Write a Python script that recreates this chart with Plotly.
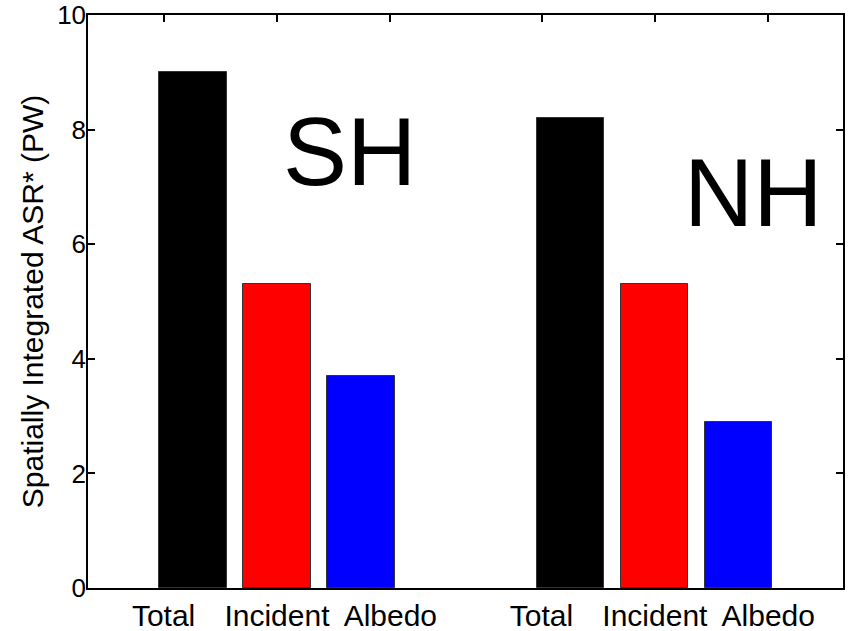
import plotly.graph_objects as go

# Spatially integrated absorbed shortwave radiation, by hemisphere
hemispheres = ["SH", "NH"]
components = ["Total", "Incident", "Albedo"]
sh_values = [9.0, 5.3, 3.7]
nh_values = [8.2, 5.3, 2.9]
bar_colors = ["#000000", "#ff0000", "#0000ff"]
y_ticks = [0, 2, 4, 6, 8, 10]

# group layout on a numeric x axis
group_centers = [2.0, 6.5]
bar_offsets = [-1.0, 0.0, 1.0]
tick_offsets = [-1.35, 0.0, 1.35]

FONT = "Liberation Sans, Arial, Helvetica, sans-serif"

fig = go.Figure()
for gc, vals in zip(group_centers, [sh_values, nh_values]):
    fig.add_trace(go.Bar(
        x=[gc + o for o in bar_offsets],
        y=vals,
        width=0.8,
        marker=dict(color=bar_colors, line=dict(color="#333333", width=1)),
        showlegend=False,
        hoverinfo="x+y",
    ))

tickvals = [gc + o for gc in group_centers for o in tick_offsets]
ticktext = components * len(group_centers)

fig.update_layout(
    width=849, height=631,
    margin=dict(l=88, r=6, t=15, b=43),
    paper_bgcolor="white", plot_bgcolor="white",
    font=dict(family=FONT, color="black"),
    bargap=0,
)
fig.update_xaxes(
    range=[-0.25, 8.74],
    tickvals=tickvals, ticktext=ticktext,
    ticks="inside", ticklen=7, tickwidth=1.5, tickcolor="black",
    showline=True, linecolor="black", linewidth=1.5, mirror="ticks",
    showgrid=False, zeroline=False,
    tickfont=dict(size=30, family=FONT),
    layer="below traces",
    automargin=False,
)
fig.update_yaxes(
    range=[0, 10],
    tickvals=y_ticks,
    ticks="inside", ticklen=7, tickwidth=1.5, tickcolor="black",
    showline=True, linecolor="black", linewidth=1.5, mirror="ticks",
    showgrid=False, zeroline=False,
    tickfont=dict(size=26, family=FONT),
    ticklabelstandoff=-5,
    title=dict(text="Spatially Integrated ASR* (PW)", font=dict(size=30, family=FONT), standoff=5),
    automargin=False,
)

# hemisphere labels
for name, xpos, ypos in [("SH", 2.86, 7.62), ("NH", 7.67, 6.91)]:
    fig.add_annotation(x=xpos, y=ypos, xref="x", yref="y", text=name,
                       showarrow=False, font=dict(size=96, family=FONT, color="black"))

fig.write_html("out.html")
